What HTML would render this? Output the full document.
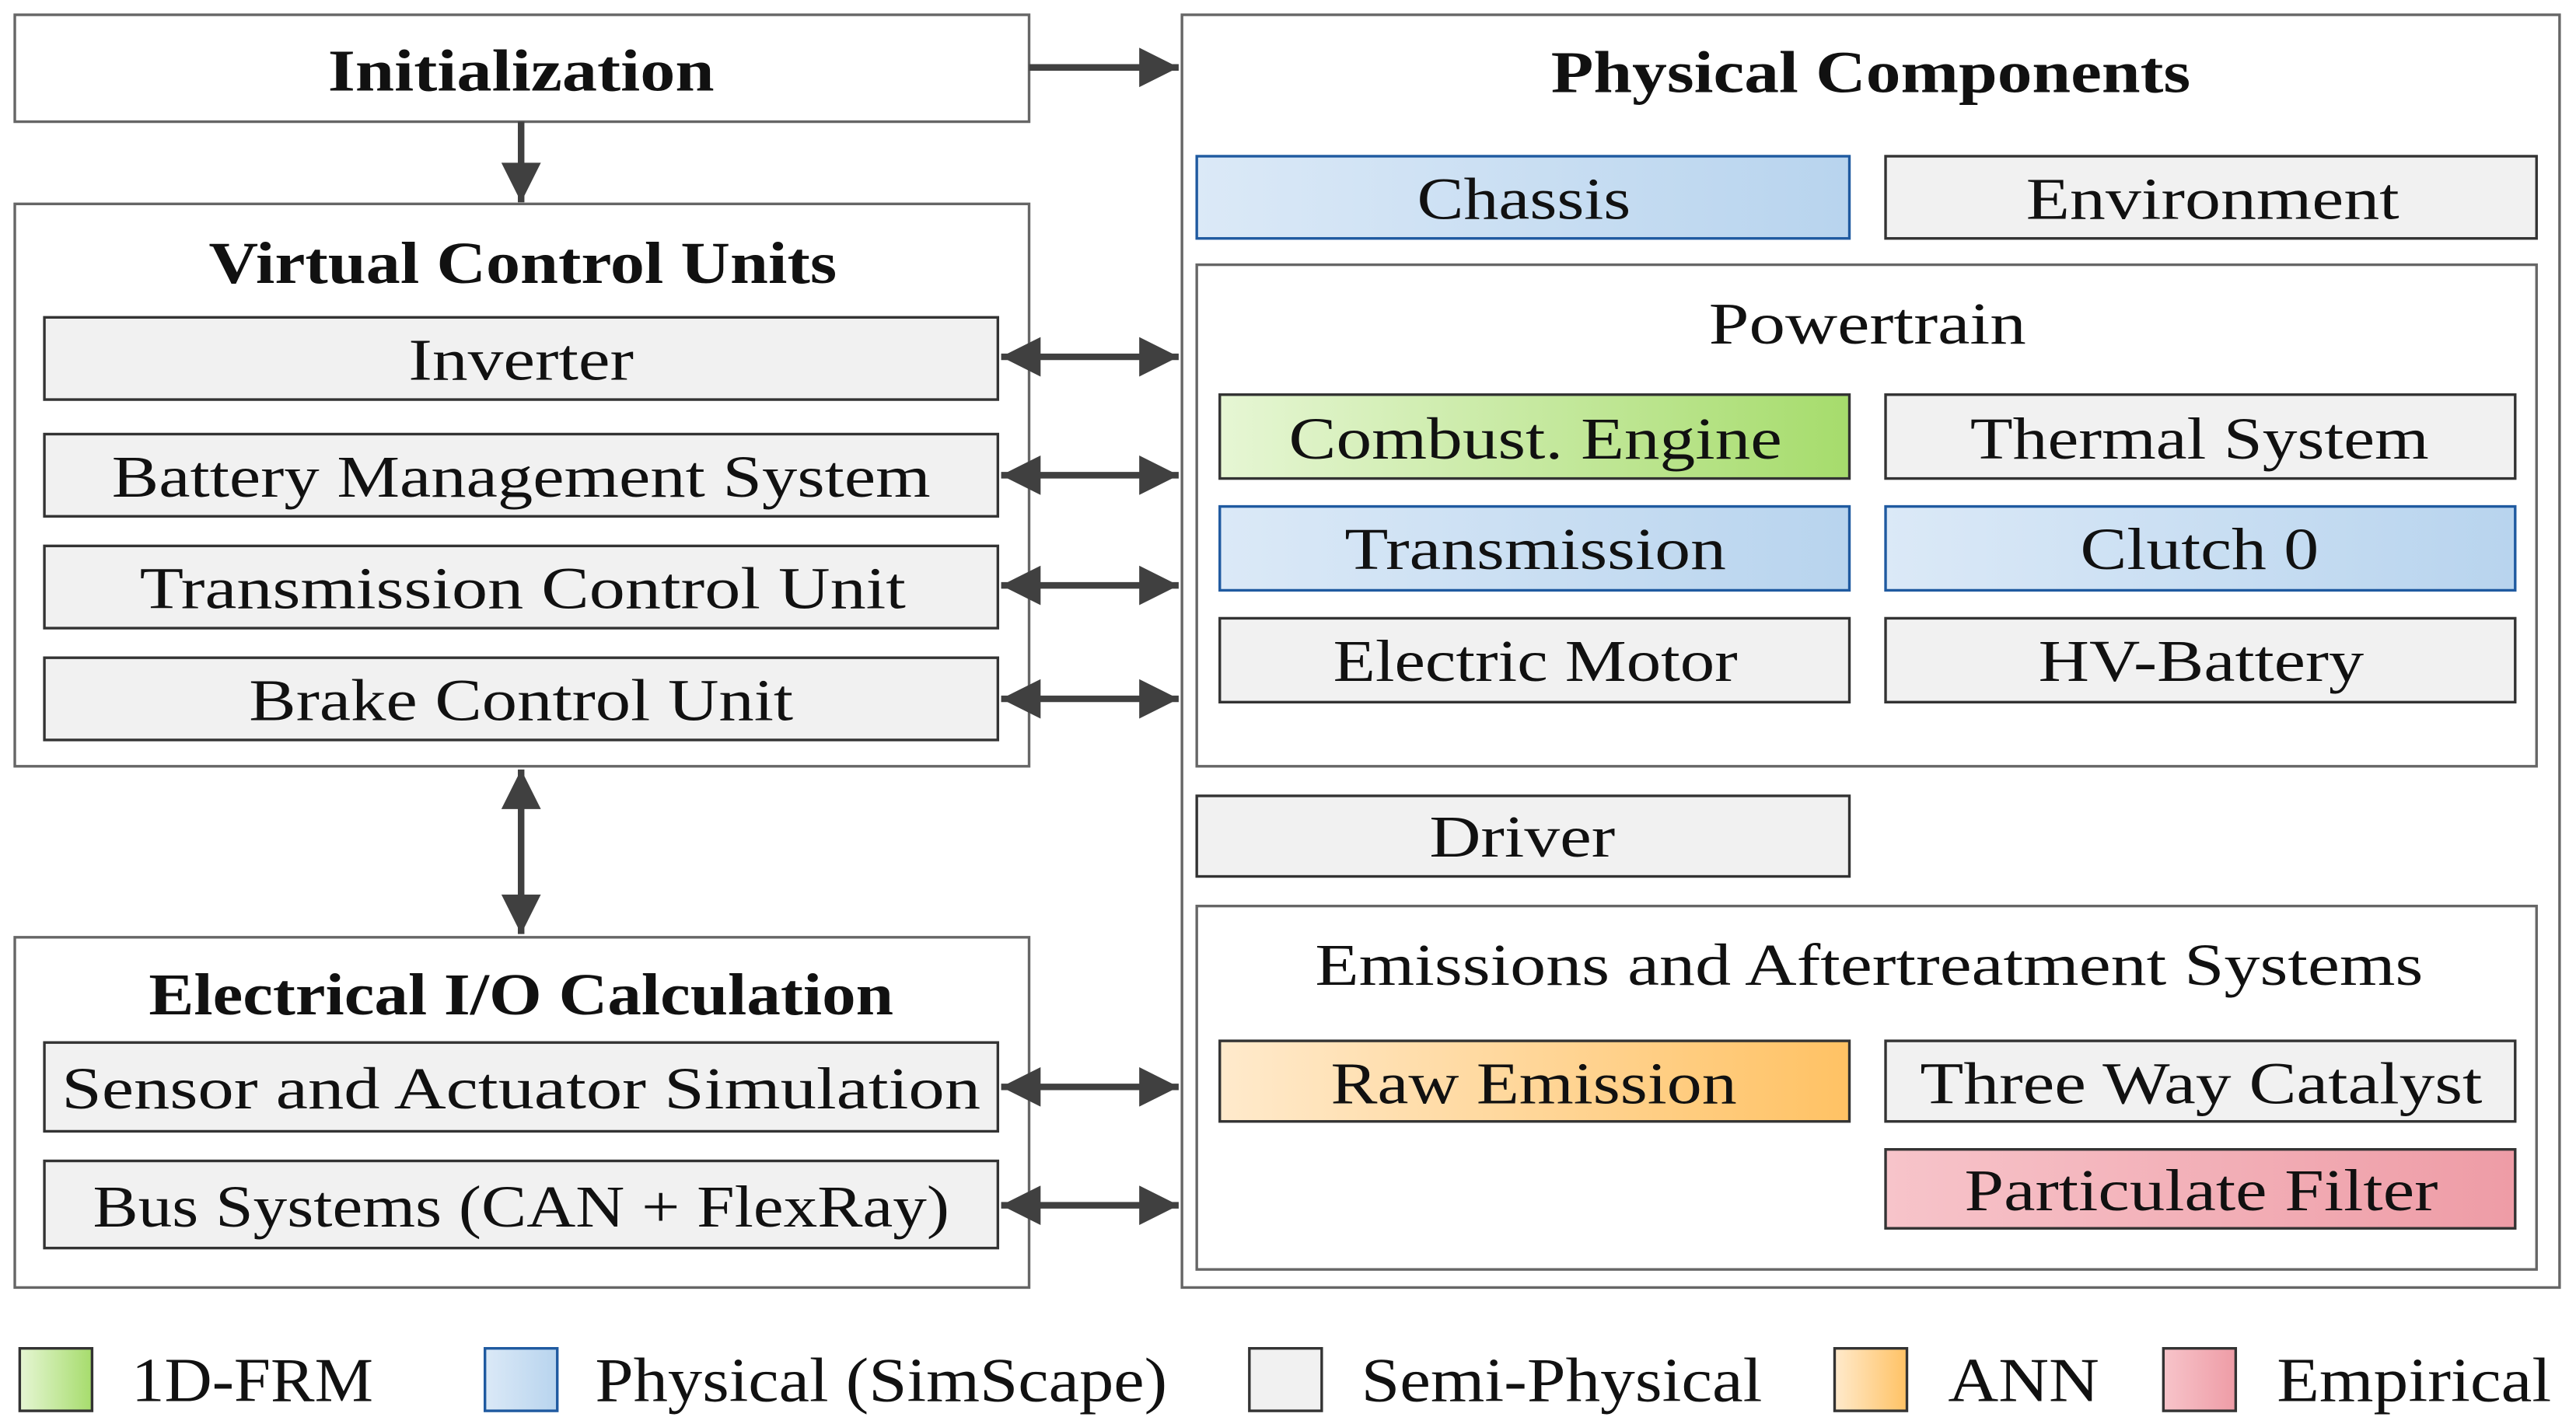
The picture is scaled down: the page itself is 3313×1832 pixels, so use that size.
<!DOCTYPE html>
<html><head><meta charset="utf-8"><style>
html,body{margin:0;padding:0;background:#fff;}
svg{display:block;}
text{font-family:"Liberation Serif",serif;fill:#111;}
</style></head><body>
<svg width="3313" height="1832" viewBox="0 0 1567 866" preserveAspectRatio="none" xmlns="http://www.w3.org/2000/svg">
<defs>
<linearGradient id="g" x1="0" x2="1"><stop offset="0" stop-color="#e6f6d4"/><stop offset="1" stop-color="#a6dc6c"/></linearGradient>
<linearGradient id="b" x1="0" x2="1"><stop offset="0" stop-color="#dbe9f7"/><stop offset="1" stop-color="#b8d4ee"/></linearGradient>
<linearGradient id="o" x1="0" x2="1"><stop offset="0" stop-color="#ffeacc"/><stop offset="1" stop-color="#ffc264"/></linearGradient>
<linearGradient id="p" x1="0" x2="1"><stop offset="0" stop-color="#f7c4ca"/><stop offset="1" stop-color="#ee9ca6"/></linearGradient>
<marker id="ah" viewBox="0 0 10 10" refX="10" refY="5" markerWidth="8" markerHeight="6" markerUnits="strokeWidth" orient="auto-start-reverse"><path d="M0,0 L10,5 L0,10 z" fill="#404040"/></marker>
</defs>
<g fill="none" stroke="#666" stroke-width="1.6">
<rect x="9" y="9" width="617" height="65" fill="#fff"/>
<rect x="9" y="124" width="617" height="342"/>
<rect x="9" y="570" width="617" height="213"/>
<rect x="719" y="9" width="838" height="774"/>
<rect x="728" y="161" width="815" height="305"/>
<rect x="728" y="551" width="815" height="221"/>
</g>
<g stroke="#333" stroke-width="1.6">
<rect x="27" y="193" width="580" height="50" fill="#f1f1f1"/>
<rect x="27" y="264" width="580" height="50" fill="#f1f1f1"/>
<rect x="27" y="332" width="580" height="50" fill="#f1f1f1"/>
<rect x="27" y="400" width="580" height="50" fill="#f1f1f1"/>
<rect x="27" y="634" width="580" height="54" fill="#f1f1f1"/>
<rect x="27" y="706" width="580" height="53" fill="#f1f1f1"/>
<rect x="1147" y="95" width="396" height="50" fill="#f1f1f1"/>
<rect x="1147" y="240" width="383" height="51" fill="#f1f1f1"/>
<rect x="742" y="376" width="383" height="51" fill="#f1f1f1"/>
<rect x="1147" y="376" width="383" height="51" fill="#f1f1f1"/>
<rect x="728" y="484" width="397" height="49" fill="#f1f1f1"/>
<rect x="1147" y="633" width="383" height="49" fill="#f1f1f1"/>
</g>
<g stroke="#1f5aa0" stroke-width="1.6">
<rect x="728" y="95" width="397" height="50" fill="url(#b)"/>
<rect x="742" y="308" width="383" height="51" fill="url(#b)"/>
<rect x="1147" y="308" width="383" height="51" fill="url(#b)"/>
</g>
<rect x="742" y="240" width="383" height="51" fill="url(#g)" stroke="#333" stroke-width="1.6"/>
<rect x="742" y="633" width="383" height="49" fill="url(#o)" stroke="#333" stroke-width="1.6"/>
<rect x="1147" y="699" width="383" height="48" fill="url(#p)" stroke="#333" stroke-width="1.6"/>
<g stroke="#404040" stroke-width="4" fill="none">
<line x1="626" y1="41" x2="717" y2="41" marker-end="url(#ah)"/>
<line x1="317" y1="74" x2="317" y2="123" marker-end="url(#ah)"/>
<line x1="317" y1="468" x2="317" y2="568" marker-start="url(#ah)" marker-end="url(#ah)"/>
<line x1="609" y1="217" x2="717" y2="217" marker-start="url(#ah)" marker-end="url(#ah)"/>
<line x1="609" y1="289" x2="717" y2="289" marker-start="url(#ah)" marker-end="url(#ah)"/>
<line x1="609" y1="356" x2="717" y2="356" marker-start="url(#ah)" marker-end="url(#ah)"/>
<line x1="609" y1="425" x2="717" y2="425" marker-start="url(#ah)" marker-end="url(#ah)"/>
<line x1="609" y1="661" x2="717" y2="661" marker-start="url(#ah)" marker-end="url(#ah)"/>
<line x1="609" y1="733" x2="717" y2="733" marker-start="url(#ah)" marker-end="url(#ah)"/>
</g>
<g font-size="36" text-anchor="middle">
<text x="317" y="55" font-weight="bold" textLength="235" lengthAdjust="spacingAndGlyphs">Initialization</text>
<text x="318" y="172" font-weight="bold" textLength="382" lengthAdjust="spacingAndGlyphs">Virtual Control Units</text>
<text x="317" y="617" font-weight="bold" textLength="453" lengthAdjust="spacingAndGlyphs">Electrical I/O Calculation</text>
<text x="1138" y="56" font-weight="bold" textLength="389" lengthAdjust="spacingAndGlyphs">Physical Components</text>
<text x="317" y="231" textLength="137" lengthAdjust="spacingAndGlyphs">Inverter</text>
<text x="317" y="302" textLength="498" lengthAdjust="spacingAndGlyphs">Battery Management System</text>
<text x="318" y="370" textLength="466" lengthAdjust="spacingAndGlyphs">Transmission Control Unit</text>
<text x="317" y="438" textLength="331" lengthAdjust="spacingAndGlyphs">Brake Control Unit</text>
<text x="317" y="674" textLength="559" lengthAdjust="spacingAndGlyphs">Sensor and Actuator Simulation</text>
<text x="317" y="746" textLength="521" lengthAdjust="spacingAndGlyphs">Bus Systems (CAN + FlexRay)</text>
<text x="927" y="133" textLength="130" lengthAdjust="spacingAndGlyphs">Chassis</text>
<text x="1346" y="133" textLength="227" lengthAdjust="spacingAndGlyphs">Environment</text>
<text x="1136" y="209" textLength="193" lengthAdjust="spacingAndGlyphs">Powertrain</text>
<text x="934" y="279" textLength="300" lengthAdjust="spacingAndGlyphs">Combust. Engine</text>
<text x="1338" y="279" textLength="279" lengthAdjust="spacingAndGlyphs">Thermal System</text>
<text x="934" y="346" textLength="232" lengthAdjust="spacingAndGlyphs">Transmission</text>
<text x="1338" y="346" textLength="145" lengthAdjust="spacingAndGlyphs">Clutch 0</text>
<text x="934" y="414" textLength="246" lengthAdjust="spacingAndGlyphs">Electric Motor</text>
<text x="1339" y="414" textLength="198" lengthAdjust="spacingAndGlyphs">HV-Battery</text>
<text x="926" y="521" textLength="113" lengthAdjust="spacingAndGlyphs">Driver</text>
<text x="1137" y="599" textLength="674" lengthAdjust="spacingAndGlyphs">Emissions and Aftertreatment Systems</text>
<text x="933" y="671" textLength="247" lengthAdjust="spacingAndGlyphs">Raw Emission</text>
<text x="1339" y="671" textLength="342" lengthAdjust="spacingAndGlyphs">Three Way Catalyst</text>
<text x="1339" y="736" textLength="288" lengthAdjust="spacingAndGlyphs">Particulate Filter</text>
</g>
<g stroke="#333" stroke-width="1.6">
<rect x="12" y="820" width="44" height="38" fill="url(#g)"/>
<rect x="295" y="820" width="44" height="38" fill="url(#b)" stroke="#1f5aa0"/>
<rect x="760" y="820" width="44" height="38" fill="#f1f1f1"/>
<rect x="1116" y="820" width="44" height="38" fill="url(#o)"/>
<rect x="1316" y="820" width="44" height="38" fill="url(#p)"/>
</g>
<g font-size="38">
<text x="80" y="852" textLength="147" lengthAdjust="spacingAndGlyphs">1D-FRM</text>
<text x="362" y="852" textLength="348" lengthAdjust="spacingAndGlyphs">Physical (SimScape)</text>
<text x="828" y="852" textLength="244" lengthAdjust="spacingAndGlyphs">Semi-Physical</text>
<text x="1185" y="852" textLength="92" lengthAdjust="spacingAndGlyphs">ANN</text>
<text x="1385" y="852" textLength="167" lengthAdjust="spacingAndGlyphs">Empirical</text>
</g>
</svg>
</body></html>
